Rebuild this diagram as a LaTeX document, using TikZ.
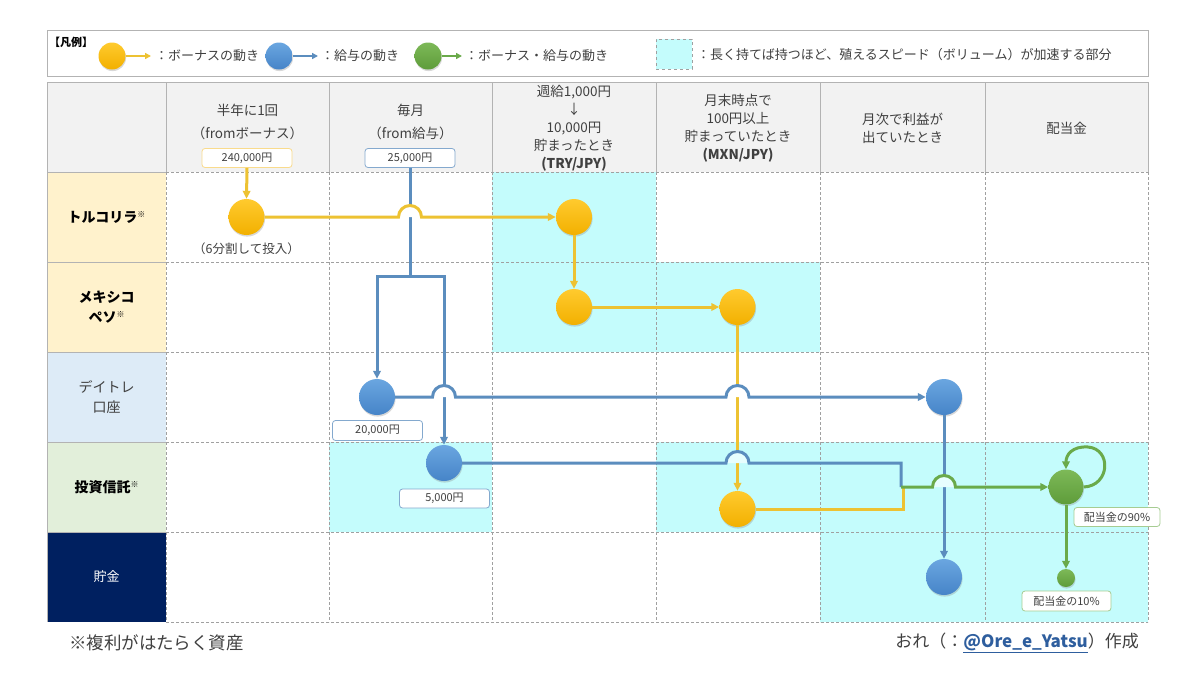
\documentclass[tikz,border=0pt]{standalone}
\usepackage{fontspec}
\setmainfont{Noto Sans CJK JP}
\usetikzlibrary{arrows.meta,shadows}
\definecolor{cyanbg}{RGB}{196,252,252}
\definecolor{hdrgray}{HTML}{F2F2F2}
\definecolor{cream}{HTML}{FFF2CC}
\definecolor{lblue}{HTML}{DDEBF7}
\definecolor{lgreen}{HTML}{E2EFDA}
\definecolor{navy}{HTML}{002060}
\definecolor{gridc}{HTML}{A0A0A0}
\definecolor{yline}{HTML}{EDC232}
\definecolor{bline}{HTML}{5B8DBE}
\definecolor{gline}{HTML}{6AAA4A}
\definecolor{ytop}{HTML}{FFCA2E}
\definecolor{ybot}{HTML}{F2B000}
\definecolor{btop}{HTML}{6AA6E0}
\definecolor{bbot}{HTML}{4684C8}
\definecolor{gtop}{HTML}{7DB958}
\definecolor{gbot}{HTML}{5E9C3A}
\definecolor{linkblue}{HTML}{2E5E9E}
\definecolor{txt}{HTML}{404040}
\newcommand\komemark{\raisebox{5pt}{\fontsize{8}{8}\selectfont\mdseries ※}}
\begin{document}
\begin{tikzpicture}[x=1pt,y=-1pt,
  tip/.style={-{Triangle[length=8pt,width=7.5pt]}},
  smalltip/.style={-{Triangle[length=6pt,width=6pt]}},
  yl/.style={draw=yline,line width=3pt},
  bl/.style={draw=bline,line width=3pt},
  gl/.style={draw=gline,line width=3pt},
  ball/.style={circle,inner sep=0pt,minimum size=36pt,draw=none,
    drop shadow={shadow xshift=0.6pt,shadow yshift=-1.6pt,opacity=0.3}},
  ycirc/.style={ball,top color=ytop,bottom color=ybot},
  bcirc/.style={ball,top color=btop,bottom color=bbot},
  gcirc/.style={ball,top color=gtop,bottom color=gbot},
  amount/.style={rounded corners=3pt,fill=white,line width=0.8pt,
    minimum width=90pt,minimum height=19pt,inner sep=0pt,
    font=\fontsize{11}{12}\selectfont,text=txt},
  gridline/.style={draw=gridc,line width=0.8pt,dash pattern=on 3pt off 2pt},
  solidline/.style={draw=gridc!80,line width=0.9pt},
  hdr/.style={align=center,text=txt,font=\fontsize{13.5}{18}\selectfont,inner sep=0pt},
  rowhdr/.style={align=center,text=black,font=\fontsize{14}{20}\selectfont,inner sep=0pt},
  legtext/.style={anchor=west,text=txt,font=\fontsize{13}{14}\selectfont,inner sep=0pt}
]
\useasboundingbox (0,0) rectangle (1200,675);
\fill[white] (0,0) rectangle (1200,675);

% legend
\draw[draw=gridc!80,line width=0.9pt] (47,30) rectangle (1148,76);
\node[anchor=west,inner sep=0pt,font=\bfseries\fontsize{11}{12}\selectfont] (lgT) at (49,42) {【凡例】};
\node[ycirc,minimum size=27pt] (lgY) at (112,56) {};
\coordinate (lgYe) at (151,56);
\draw[draw=yline,line width=2pt,smalltip] (lgY.east) -- (lgYe);
\node[legtext] (lgYt) at (155,56) {：ボーナスの動き};
\node[bcirc,minimum size=27pt] (lgB) at (279,56) {};
\coordinate (lgBe) at (318,56);
\draw[draw=bline,line width=2pt,smalltip] (lgB.east) -- (lgBe);
\node[legtext] (lgBt) at (321,56) {：給与の動き};
\node[gcirc,minimum size=27pt] (lgG) at (428,56) {};
\coordinate (lgGe) at (462,56);
\draw[draw=gline,line width=2pt,smalltip] (lgG.east) -- (lgGe);
\node[legtext] (lgGt) at (465,56) {：ボーナス・給与の動き};
\node[draw=gridc,dashed,fill=cyanbg,minimum width=36pt,minimum height=30pt,inner sep=0pt] (lgC) at (674,54) {};
\node[legtext] (lgCt) at (697,55) {：長く持てば持つほど、殖えるスピード（ボリューム）が加速する部分};

% backgrounds
\fill[cyanbg] (492,172) rectangle (656,352);
\fill[cyanbg] (656,262) rectangle (820,352);
\fill[cyanbg] (329,442) rectangle (492,532);
\fill[cyanbg] (656,442) rectangle (1148,532);
\fill[cyanbg] (820,532) rectangle (1148,622);
\fill[hdrgray] (47,82) rectangle (1148,172);
\fill[cream] (47,172) rectangle (166,352);
\fill[lblue] (47,352) rectangle (166,442);
\fill[lgreen] (47,442) rectangle (166,532);
\fill[navy] (47,532) rectangle (166,622);

% grid
\foreach \y in {172,262,352,442,532,622} \draw[gridline] (166,\y) -- (1148,\y);
\foreach \x in {166,329,492,656,820,985,1148} \draw[gridline] (\x,172) -- (\x,622);
\draw[solidline] (47,82) -- (1148,82);
\foreach \x in {166,329,492,656,820,985,1148} \draw[solidline] (\x,82) -- (\x,172);
\draw[solidline] (47,82) -- (47,622);
\foreach \y in {172,262,352,442,532} \draw[solidline] (47,\y) -- (166,\y);

% header texts
\node[hdr,font=\fontsize{13.5}{23}\selectfont] (h1) at (247.5,121.5) {半年に1回\\（fromボーナス）};
\node[hdr,font=\fontsize{13.5}{23}\selectfont] (h2) at (410.5,121.5) {毎月\\（from給与）};
\node[hdr] (h3) at (574,128) {週給1,000円\\↓\\10,000円\\貯まったとき\\\textbf{(TRY/JPY)}};
\node[hdr] (h4) at (738,128) {月末時点で\\100円以上\\貯まっていたとき\\\textbf{(MXN/JPY)}};
\node[hdr] (h5) at (902.5,128) {月次で利益が\\出ていたとき};
\node[hdr] (h6) at (1066.5,128) {配当金};

% row headers
\node[rowhdr] (r1) at (106.5,217) {\textbf{トルコリラ}\komemark};
\node[rowhdr] (r2) at (106.5,307) {\textbf{メキシコ}\\\textbf{ペソ}\komemark};
\node[rowhdr,text=txt] (r3) at (106.5,397) {デイトレ\\口座};
\node[rowhdr] (r4) at (106.5,487) {\textbf{投資信託}\komemark};
\node[rowhdr,text=white,font=\fontsize{13}{16}\selectfont] (r5) at (106.5,577) {貯金};

% amount labels
\node[amount,draw=ybot!45] (l240) at (247,158) {240,000円};
\node[amount,draw=bline!75] (l25) at (410,158) {25,000円};
\node[amount,draw=bline!75,minimum height=20pt] (l20k) at (377.5,430.5) {20,000円};
\node[amount,draw=bline!75] (l5k) at (444.5,498.5) {5,000円};
\node[amount,draw=gline!60,minimum width=86pt] (l90) at (1117,517) {配当金の90\%};
\node[amount,draw=gline!60,minimum width=89pt,minimum height=20pt] (l10) at (1066.5,601) {配当金の10\%};
\node[text=txt,font=\fontsize{12.5}{14}\selectfont,inner sep=0pt] (lsplit) at (246.5,249) {（6分割して投入）};

% circles
\node[ycirc] (yA) at (246.5,217) {};
\node[ycirc] (yB) at (574,217) {};
\node[ycirc] (yC) at (574,307) {};
\node[ycirc] (yD) at (737.5,307) {};
\node[ycirc] (yE) at (737.5,509) {};
\node[bcirc] (bF) at (377,397) {};
\node[bcirc] (bG) at (444,463) {};
\node[bcirc] (bH) at (944,397) {};
\node[bcirc] (bI) at (944,577) {};
\node[gcirc,minimum size=35pt] (gJ) at (1066,487) {};
\node[gcirc,minimum size=18pt] (gK) at (1066,578) {};

\coordinate (jb) at (410,276);
\coordinate (jg) at (901,463);
\coordinate (jm) at (901,487);
\coordinate (jy) at (903,509);
\coordinate (jy2) at (903,488);

% connectors that pass underneath
\draw[yl,tip] (l240.south) -- (yA.north);
\draw[bl] (l25.south) -- (jb);
\draw[bl,tip] (jb) -| (bF.north);
\draw[bl,tip] (jb) -| (bG.north);
\draw[yl,tip] (yB.south) -- (yC.north);
\draw[yl,tip] (yC.east) -- (yD.west);
\draw[yl,tip] (yD.south) -- (yE.north);
\draw[bl,tip] (bH.south) -- (bI.north);
\draw[yl] (yE.east) -- (jy) -- (jy2);

% hop covers
\fill[white] (398.5,217) arc[start angle=180,end angle=0,radius=11.5pt] -- cycle;
\fill[white] (432.5,397) arc[start angle=180,end angle=0,radius=11.5pt] -- cycle;
\fill[white] (726,397) arc[start angle=180,end angle=0,radius=11.5pt] -- cycle;
\fill[cyanbg!40!white] (726,463) arc[start angle=180,end angle=0,radius=11.5pt] -- cycle;
\fill[cyanbg!40!white] (932.5,487) arc[start angle=180,end angle=0,radius=11.5pt] -- cycle;

% hopping connectors
\draw[yl,tip] (yA.east) -- (398.5,217) arc[start angle=180,end angle=0,radius=11.5pt] -- (yB.west);
\draw[bl,tip] (bF.east) -- (432.5,397) arc[start angle=180,end angle=0,radius=11.5pt]
   -- (726,397) arc[start angle=180,end angle=0,radius=11.5pt] -- (bH.west);
\draw[bl] (bG.east) -- (726,463) arc[start angle=180,end angle=0,radius=11.5pt] -- (jg) -- (jm);
\draw[gl,tip] (jm) -- (932.5,487) arc[start angle=180,end angle=0,radius=11.5pt] -- (gJ.west);
\draw[gl,tip] (gJ.east) .. controls (1110,486) and (1112,449) .. (1088,447)
   .. controls (1072,446) and (1066,455) .. (gJ.north);
\draw[gl,tip] (gJ.south) -- (gK.north);

% footer
\node[anchor=west,inner sep=0pt,text=txt,font=\fontsize{17.5}{19}\selectfont] (fn) at (69,643) {※複利がはたらく資産};
\node[anchor=east,inner sep=0pt,text=txt,font=\fontsize{17}{19}\selectfont] (au) at (1139,643)
   {おれ（：\textcolor{linkblue}{\underline{\textbf{@Ore\_e\_Yatsu}}}）作成};
\end{tikzpicture}
\end{document}
